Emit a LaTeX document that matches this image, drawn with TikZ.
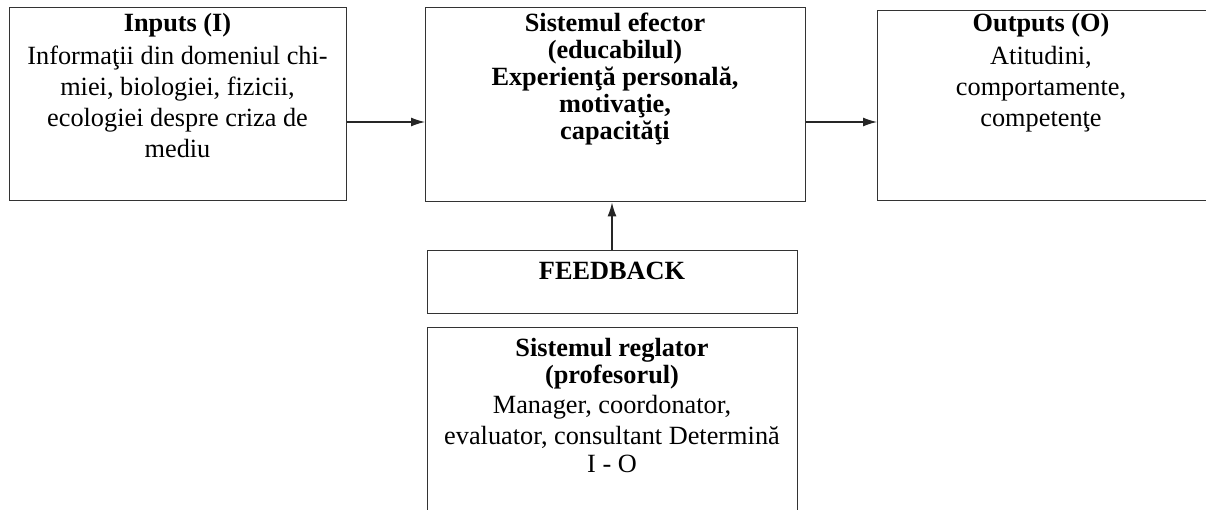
\documentclass[tikz,border=0pt]{standalone}
\usepackage{fontspec}
\setmainfont{Liberation Serif}
\usetikzlibrary{arrows.meta}
\begin{document}
\begin{tikzpicture}[x=1pt,y=-1pt,
  boxline/.style={draw=black!80, line width=1.4pt, inner sep=0pt, anchor=north west},
  txt/.style={anchor=north, align=center, inner sep=0pt, font=\fontsize{26.3}{31}\selectfont},
  boldtxt/.style={txt, font=\fontsize{26.3}{27}\selectfont\bfseries},
  conn/.style={draw=black!85, line width=1.3pt, -{Latex[length=14pt,width=9pt]}}]
\useasboundingbox (0,0) rectangle (1206,510);
\clip (0,0) rectangle (1206,510);
% boxes
\node[boxline, minimum width=337pt, minimum height=193pt] (in) at (9,7) {};
\node[boxline, minimum width=380pt, minimum height=194pt] (ef) at (425,7) {};
\node[boxline, minimum width=360pt, minimum height=190pt] (out) at (877,10) {};
\node[boxline, minimum width=370pt, minimum height=63pt] (fb) at (427,250) {};
\node[boxline, minimum width=370pt, minimum height=220pt] (reg) at (427,327) {};
% texts (first baseline = north + 20)
\node[txt] (intxt) at (177.5,11) {\rule{0pt}{20pt}\textbf{Inputs (I)}\\[2pt]Informaţii din domeniul chi-\\miei, biologiei, fizicii,\\ecologiei despre criza de\\mediu};
\node[boldtxt] (eftxt) at (615,11) {\rule{0pt}{20pt}Sistemul efector\\(educabilul)\\Experienţă personală,\\motivaţie,\\capacităţi};
\node[txt] (outtxt) at (1041,11) {\rule{0pt}{20pt}\textbf{Outputs (O)}\\[2pt]Atitudini,\\comportamente,\\competenţe};
\node[txt] (fbtxt) at (612,259) {\rule{0pt}{20pt}\textbf{FEEDBACK}};
\node[txt] (regtxt) at (612,336) {\rule{0pt}{20pt}\textbf{Sistemul reglator}\\[-4pt]\textbf{(profesorul)}\\[-1pt]Manager, coordonator,\\evaluator, consultant Determină\\[-3pt]I - O};
% connectors
\draw[conn] (in.east |- 0,122) -- (ef.west |- 0,122);
\draw[conn] (ef.east |- 0,122) -- (out.west |- 0,122);
\draw[conn] (fb.north -| 612,0) -- (ef.south -| 612,0);
\end{tikzpicture}
\end{document}
